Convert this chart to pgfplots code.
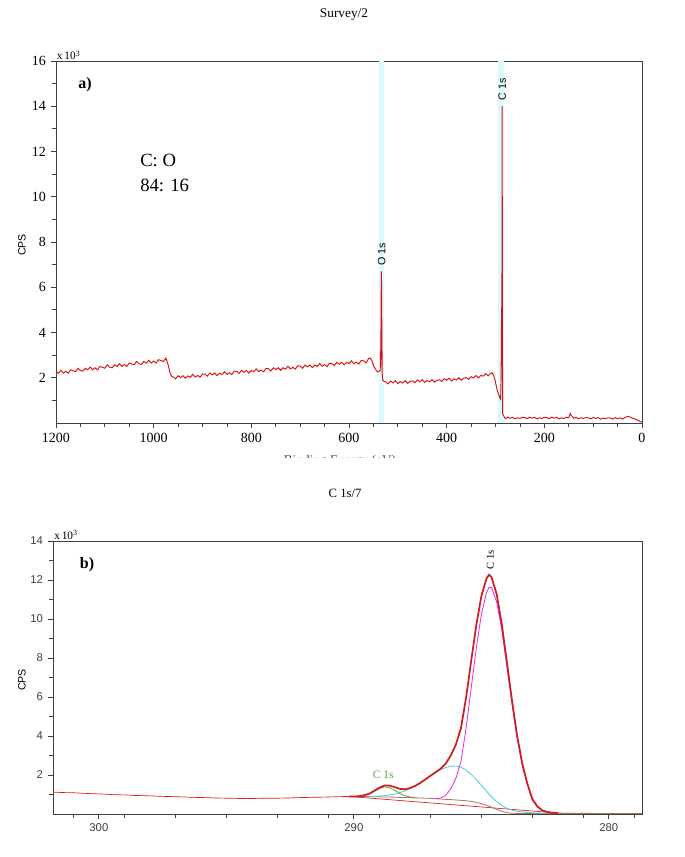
\documentclass[border=0pt]{standalone}
\usepackage{pgfplots}
\pgfplotsset{compat=1.18}
\usepackage{fontspec}
\setmainfont{Liberation Serif}
\setsansfont{Liberation Sans}
\definecolor{specred}{rgb}{0.86,0.06,0.06}
\definecolor{bandcyan}{rgb}{0.86,0.98,1.0}
\definecolor{envred}{rgb}{0.88,0.10,0.10}
\definecolor{magc}{rgb}{0.92,0.15,0.90}
\definecolor{cyanc}{rgb}{0.30,0.80,0.85}
\definecolor{greenc}{rgb}{0.35,0.62,0.30}
\definecolor{brownc}{rgb}{0.66,0.46,0.36}
\definecolor{axgray}{rgb}{0.25,0.25,0.25}
\begin{document}
\begin{tikzpicture}[x=1pt,y=1pt]
\useasboundingbox (0,0) rectangle (513.75,642.75);
% ---------------- panel a ----------------
\begin{axis}[at={(42pt,325.5pt)}, anchor=south west, scale only axis,
  width=439.5pt, height=271.5pt,
  xmin=0, xmax=1200, ymin=0, ymax=16, x dir=reverse,
  xtick={0,200,...,1200}, minor xtick={50,100,...,1150},
  ytick={2,4,...,16}, minor ytick={1,3,...,15},
  tick align=outside, xtick pos=bottom, ytick pos=left,
  major tick length=4pt, minor tick length=3pt,
  axis line style={draw=axgray, line width=0.7pt},
  tick style={axgray, line width=0.6pt},
  /pgf/number format/1000 sep={},
  /pgf/number format/assume math mode=true,
  ticklabel style={font=\fontsize{10.5}{11}\selectfont},
  clip=true]
\addplot[fill=bandcyan, draw=none] coordinates {(529,16) (538.6,16)} \closedcycle;
\addplot[fill=bandcyan, draw=none] coordinates {(282,16) (295.6,16)} \closedcycle;
\addplot[specred, line width=0.7pt] coordinates {
(1200,2.27)(1195,2.20)(1190,2.33)(1185,2.20)(1180,2.29)(1175,2.20)(1170,2.35)(1165,2.31)(1160,2.27)(1155,2.42)
(1150,2.32)(1145,2.29)(1140,2.42)(1135,2.35)(1130,2.47)(1125,2.35)(1120,2.44)(1115,2.35)(1110,2.50)(1105,2.46)
(1100,2.42)(1095,2.57)(1090,2.47)(1085,2.44)(1080,2.57)(1075,2.50)(1070,2.62)(1065,2.50)(1060,2.59)(1055,2.50)
(1050,2.65)(1045,2.61)(1040,2.57)(1035,2.72)(1030,2.62)(1025,2.59)(1020,2.72)(1015,2.65)(1010,2.77)(1005,2.65)
(1000,2.74)(995,2.65)(990,2.80)(985,2.76)(980,2.72)(975,2.87)(970,2.55)(967,2.25)(963,2.05)
(960,2.04)(955,1.95)(950,2.09)(945,2.01)(940,2.09)(935,1.98)(930,2.08)(925,2.02)(920,2.15)(915,2.03)
(910,2.10)(905,2.02)(900,2.17)(895,2.16)(890,2.07)(885,2.21)(880,2.13)(875,2.21)(870,2.09)(865,2.20)
(860,2.14)(855,2.27)(850,2.15)(845,2.22)(840,2.14)(835,2.29)(830,2.28)(825,2.19)(820,2.33)(815,2.24)
(810,2.32)(805,2.21)(800,2.32)(795,2.26)(790,2.39)(785,2.27)(780,2.34)(775,2.26)(770,2.41)(765,2.40)
(760,2.30)(755,2.44)(750,2.36)(745,2.44)(740,2.33)(735,2.44)(730,2.38)(725,2.51)(720,2.39)(715,2.46)
(710,2.38)(705,2.53)(700,2.51)(695,2.42)(690,2.56)(685,2.48)(680,2.56)(675,2.45)(670,2.56)(665,2.50)
(660,2.63)(655,2.51)(650,2.58)(645,2.49)(640,2.64)(635,2.63)(630,2.54)(625,2.68)(620,2.60)(615,2.68)
(610,2.57)(605,2.68)(600,2.62)(595,2.75)(590,2.62)(585,2.69)(580,2.61)(575,2.76)(570,2.75)(565,2.66)
(560,2.84)(557,2.88)(553,2.75)(549,2.50)(545,2.35)(541,2.25)(538,2.30)(536,2.30)(535.5,3.20)(535,2.50)
(534,5.90)(533.5,6.70)(533,5.00)(532,2.20)(531,1.90)(529,1.85)
(525,1.81)(520,1.73)(515,1.85)(510,1.77)(505,1.87)(500,1.74)(495,1.83)(490,1.77)(485,1.87)(480,1.75)
(475,1.84)(470,1.86)(465,1.78)(460,1.90)(455,1.82)(450,1.92)(445,1.79)(440,1.88)(435,1.82)(430,1.92)
(425,1.80)(420,1.89)(415,1.91)(410,1.84)(405,1.96)(400,1.89)(395,1.98)(390,1.86)(385,1.95)(380,1.90)
(375,2.00)(370,1.89)(365,1.98)(360,2.01)(355,1.93)(350,2.05)(345,1.99)(340,2.10)(335,2.00)(330,2.10)
(325,2.07)(320,2.18)(315,2.09)(310,2.19)(307,2.22)(305,2.15)(302,2.00)(299,1.70)(296,1.40)(293,1.25)
(291,1.10)(289.5,1.05)(288.5,2.00)(287.5,5.10)(287,2.50)(286.3,14.00)(285.8,4.00)(285.3,0.40)
(280,0.19)(275,0.26)(270,0.21)(265,0.25)(260,0.18)(255,0.23)(250,0.20)(245,0.25)(240,0.24)(235,0.19)
(230,0.26)(225,0.21)(220,0.25)(215,0.18)(210,0.23)(205,0.20)(200,0.25)(195,0.24)(190,0.19)(185,0.26)
(180,0.21)(175,0.25)(170,0.18)(165,0.23)(160,0.20)(155,0.25)(150,0.24)(147,0.42)(145,0.33)(142,0.28)
(140,0.21)(135,0.25)(130,0.18)(125,0.23)(120,0.20)(115,0.24)(110,0.23)(105,0.18)(100,0.25)(95,0.20)
(90,0.24)(85,0.17)(80,0.22)(75,0.19)(70,0.23)(65,0.22)(60,0.17)(55,0.24)(50,0.19)(45,0.23)
(40,0.17)(35,0.24)(30,0.29)(25,0.27)(20,0.22)(15,0.18)(10,0.14)(5,0.08)(0,0.04)
};
\node[rotate=90, anchor=west, font=\sffamily\fontsize{8}{9}\selectfont, inner sep=1pt] at (axis cs:533,6.9) {O 1s};
\node[rotate=90, anchor=west, font=\sffamily\fontsize{8}{9}\selectfont, inner sep=1pt] at (axis cs:286.3,14.2) {C 1s};
\end{axis}
% ---------------- panel b ----------------
\begin{axis}[at={(39.75pt,32.25pt)}, anchor=south west, scale only axis,
  width=441.75pt, height=204.75pt,
  xmin=278.7, xmax=301.8, ymin=0, ymax=14, x dir=reverse,
  xtick={280,290,300}, minor xtick={279,281,...,301},
  ytick={2,4,...,14}, minor ytick={1,3,...,13},
  tick align=outside, xtick pos=bottom, ytick pos=left,
  major tick length=4pt, minor tick length=3pt,
  axis line style={draw=axgray, line width=0.7pt},
  tick style={axgray, line width=0.6pt},
  /pgf/number format/1000 sep={},
  /pgf/number format/assume math mode=true,
  ticklabel style={font=\sffamily\fontsize{8.5}{9}\selectfont, text=axgray},
  clip=true]
% raw data (thin red)
\addplot[envred, line width=0.5pt] coordinates {
(301.8,1.12)(301.4,1.10)(301.0,1.09)(300.6,1.06)(300.2,1.04)(299.8,1.02)(299.4,0.99)(299.0,0.98)(298.6,0.95)(298.2,0.94)
(297.8,0.92)(297.4,0.90)(297.0,0.89)(296.6,0.87)(296.2,0.85)(295.8,0.84)(295.4,0.82)(295.0,0.81)(294.6,0.80)(294.2,0.79)
(293.8,0.80)(293.4,0.81)(293.0,0.81)(292.6,0.82)(292.2,0.84)(291.8,0.85)(291.4,0.86)(291.0,0.87)(290.6,0.89)(290.2,0.90)
(282.0,0.05)(281.5,0.04)(281.0,0.04)(280.5,0.03)(280.0,0.03)(279.5,0.03)(279.0,0.02)(278.7,0.02)
};
% background (brown)
\addplot[brownc, line width=0.6pt] coordinates {
(290.2,0.90)(290.0,0.90)(289.8,0.89)(289.6,0.89)(289.4,0.89)(289.2,0.88)(289.0,0.88)(288.8,0.87)(288.6,0.87)(288.4,0.86)
(288.2,0.85)(288.0,0.85)(287.8,0.84)(287.6,0.83)(287.4,0.82)(287.2,0.81)(287.0,0.80)(286.8,0.78)(286.6,0.77)(286.4,0.75)
(286.2,0.74)(286.0,0.72)(285.8,0.70)(285.6,0.68)(285.4,0.65)(285.2,0.60)(285.0,0.53)(284.8,0.45)(284.6,0.35)(284.4,0.24)
(284.2,0.14)(284.0,0.07)(283.8,0.04)(283.6,0.03)(283.0,0.03)(282.0,0.03)(280.0,0.03)(278.7,0.03)
};
% green component
\addplot[greenc, line width=0.6pt] coordinates {
(289.8,0.91)(289.6,0.95)(289.4,1.03)(289.2,1.16)(289.0,1.31)(288.8,1.39)(288.6,1.35)(288.4,1.22)(288.2,1.05)(288.0,0.94)
(287.8,0.87)(287.6,0.83)
};
% cyan component
\addplot[cyanc, line width=0.6pt] coordinates {
(289.4,0.90)(289.2,0.91)(289.0,0.92)(288.8,0.94)(288.6,0.98)(288.4,1.02)(288.2,1.09)(288.0,1.18)(287.8,1.30)(287.6,1.43)
(287.4,1.59)(287.2,1.77)(287.0,1.95)(286.8,2.12)(286.6,2.27)(286.4,2.38)(286.2,2.45)(286.0,2.46)(285.8,2.40)(285.6,2.26)
(285.4,2.04)(285.2,1.77)(285.0,1.47)(284.8,1.17)(284.6,0.87)(284.4,0.64)(284.2,0.44)(284.0,0.29)(283.8,0.20)(283.6,0.14)
(283.4,0.11)(283.2,0.08)(283.0,0.06)(282.8,0.05)(282.6,0.04)(282.4,0.03)
};
% magenta component
\addplot[magc, line width=0.6pt] coordinates {
(286.8,0.79)(286.6,0.82)(286.4,0.95)(286.2,1.29)(286.0,1.82)(285.8,2.70)(285.6,4.38)(285.4,6.45)(285.2,8.50)(285.0,10.23)
(284.8,11.35)(284.7,11.62)(284.6,11.62)(284.4,10.88)(284.2,9.44)(284.0,7.59)(283.8,5.67)(283.6,3.93)(283.4,2.53)(283.2,1.52)
(283.0,0.80)(282.8,0.40)(282.6,0.19)(282.4,0.09)(282.2,0.05)(282.0,0.03)
};
% envelope
\addplot[envred, line width=1.3pt] coordinates {
(290.2,0.90)(290.0,0.90)(289.8,0.91)(289.6,0.96)(289.4,1.04)(289.2,1.19)(289.0,1.35)(288.8,1.46)(288.6,1.46)(288.4,1.38)
(288.2,1.29)(288.0,1.27)(287.8,1.33)(287.6,1.44)(287.4,1.59)(287.2,1.77)(287.0,1.96)(286.8,2.14)(286.6,2.32)(286.4,2.58)
(286.2,3.00)(286.0,3.56)(285.8,4.40)(285.6,5.96)(285.4,7.84)(285.2,9.67)(285.0,11.17)(284.8,12.07)(284.7,12.27)(284.6,12.14)
(284.4,11.28)(284.2,9.74)(284.0,7.81)(283.8,5.83)(283.6,4.04)(283.4,2.61)(283.2,1.57)(283.0,0.75)(282.8,0.38)(282.6,0.18)
(282.4,0.10)(282.2,0.06)(282.0,0.05)
};
\addplot[black!70, line width=0.45pt, dash pattern=on 0.6pt off 1.4pt] coordinates {
(290.2,0.90)(290.0,0.90)(289.8,0.91)(289.6,0.96)(289.4,1.04)(289.2,1.19)(289.0,1.35)(288.8,1.46)(288.6,1.46)(288.4,1.38)
(288.2,1.29)(288.0,1.27)(287.8,1.33)(287.6,1.44)(287.4,1.59)(287.2,1.77)(287.0,1.96)(286.8,2.14)(286.6,2.32)(286.4,2.58)
(286.2,3.00)(286.0,3.56)(285.8,4.40)(285.6,5.96)(285.4,7.84)(285.2,9.67)(285.0,11.17)(284.8,12.07)(284.7,12.27)(284.6,12.14)
(284.4,11.28)(284.2,9.74)(284.0,7.81)(283.8,5.83)(283.6,4.04)(283.4,2.61)(283.2,1.57)(283.0,0.75)(282.8,0.38)(282.6,0.18)
(282.4,0.10)(282.2,0.06)(282.0,0.05)
};
\node[rotate=90, anchor=west, font=\fontsize{8}{9}\selectfont, inner sep=1pt] at (axis cs:284.65,12.45) {C 1s};
\node[font=\fontsize{8.5}{9}\selectfont, text=greenc] at (axis cs:288.85,2.0) {C 1s};
\end{axis}
% ---------------- texts ----------------
\node[font=\fontsize{10}{12}\selectfont] at (258,631.5) {Survey/2};
\node[font=\fontsize{9.5}{11}\selectfont] at (258.75,273) {C 1s/7};
\node[font=\fontsize{8.5}{10}\selectfont, anchor=south west, inner sep=0pt] at (42.5,597.5) {x\,10\textsuperscript{3}};
\node[font=\fontsize{8.5}{10}\selectfont, anchor=south west, inner sep=0pt] at (40.5,238.2) {x\,10\textsuperscript{3}};
\node[font=\bfseries\fontsize{12}{14}\selectfont] at (63.75,579) {a)};
\node[font=\bfseries\fontsize{12}{14}\selectfont] at (65.25,219) {b)};
\node[font=\fontsize{14}{16}\selectfont, anchor=west, inner sep=0pt] at (105,522.75) {C: O};
\node[font=\fontsize{14}{16}\selectfont, anchor=west, inner sep=0pt] at (105,504) {84: 16};
\node[rotate=90, font=\sffamily\fontsize{8}{9}\selectfont] at (16.5,459) {CPS};
\node[rotate=90, font=\sffamily\fontsize{8}{9}\selectfont] at (16.5,132.75) {CPS};
\node[anchor=north, font=\fontsize{10}{12}\selectfont, text=black!70] at (255,304.5) {Binding Energy (eV)};
\fill[white] (150,290) rectangle (360,299.5);
\end{tikzpicture}
\end{document}
